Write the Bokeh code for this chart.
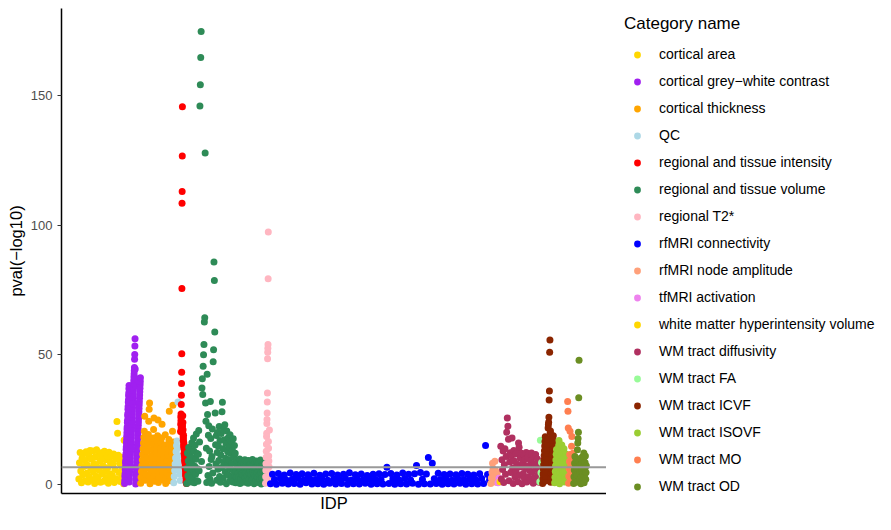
from bokeh.plotting import figure
from bokeh.layouts import row
from bokeh.models import Range1d, FixedTicker, Legend, LegendItem, Span, ColumnDataSource
from bokeh.embed import file_html
from bokeh.resources import INLINE

categories = ["cortical area", "cortical grey\u2212white contrast", "cortical thickness", "QC",
              "regional and tissue intensity", "regional and tissue volume", "regional T2*",
              "rfMRI connectivity", "rfMRI node amplitude", "tfMRI activation",
              "white matter hyperintensity volume", "WM tract diffusivity", "WM tract FA",
              "WM tract ICVF", "WM tract ISOVF", "WM tract MO", "WM tract OD"]

colors = ["#FFD700", "#A020F0", "#FFA500", "#ADD8E6", "#FF0000", "#2E8B57", "#FFB6C1",
          "#0000FF", "#FFA07A", "#EE82EE", "#FFD700", "#B03060", "#98FB98", "#8B2500",
          "#9ACD32", "#FF7F50", "#6B8E23"]

# number of IDPs (x extent) in each category
idp_counts = [46, 16, 33, 7, 6, 79, 4, 221, 7, 2, 1, 39, 3, 12, 13, 6, 13]

threshold = 6.6
y_ticks = [0, 50, 100, 150]

cortical_area = [2.1, 8.4, 12.3, 5.2, 0.6, 10.1, 3.7, 11.8, 6.9, 1.4, 9.2, 12.6, 4.3, 7.5, 0.9, 11.2,
                 2.8, 13.1, 6.1, 9.8, 1.7, 12.9, 4.8, 8.1, 0.4, 10.7, 3.2, 13.4, 6.6, 2.4, 11.5, 5.5,
                 8.9, 0.8, 12.2, 3.9, 10.3, 7.2, 1.2, 12.8, 5.0, 9.5, 2.6, 11.0, 6.4, 0.5, 12.4, 4.1,
                 8.6, 1.9, 10.9, 3.4, 7.8, 11.7, 0.7, 5.8, 9.9, 2.2, 24.3, 19.7, 11.3, 4.6, 8.2, 1.1,
                 10.5, 6.8, 3.0, 9.6, 0.3, 17.0]

grey_white = [0.4, 1.5, 3.1, 4.0, 5.7, 6.6, 8.3, 9.2, 10.9, 11.8, 13.5, 14.4, 16.0, 17.1, 18.6, 19.9,
              21.3, 22.2, 23.9, 24.8, 26.5, 27.4, 29.0, 30.1, 31.7, 32.6, 34.2, 35.3, 36.9, 38.2,
              0.9, 2.2, 3.6, 4.9, 6.2, 7.5, 8.8, 10.2, 11.5, 12.7, 14.0, 15.3, 16.6, 18.0, 19.3, 20.6,
              21.8, 23.1, 24.5, 25.8, 27.1, 28.3, 29.6, 31.0, 32.3, 33.6, 34.9, 36.2, 37.5, 38.8, 40.1,
              41.4, 42.6, 43.9, 45.1, 48.3, 50.1, 53.4, 56.2, 44.5, 41.0, 37.9,
              0.2, 1.8, 3.3, 4.5, 6.0, 7.2, 8.6, 9.9, 11.3, 12.4, 13.8, 15.1, 16.3, 17.7, 19.0, 20.2,
              21.6, 22.8, 24.1, 25.4, 26.8, 28.0, 29.3, 30.6, 31.9, 33.2, 34.5, 35.8, 37.1, 38.5, 39.7, 41.2]

thickness = [0.5, 2.8, 5.0, 7.2, 9.4, 11.6, 13.8, 16.0, 18.2, 20.5, 26.3,
             1.6, 3.9, 6.1, 8.3, 10.5, 12.7, 14.9, 17.1, 19.3, 24.4, 29.0, 31.4,
             0.3, 2.5, 4.7, 6.9, 9.1, 11.3, 13.5, 15.7, 17.9, 21.2, 25.6,
             1.2, 3.4, 5.6, 7.8, 10.0, 12.2, 14.4, 16.6, 18.8, 24.9,
             0.7, 2.9, 5.1, 7.3, 9.5, 11.7, 13.9, 16.1, 17.9, 23.2,
             1.8, 4.0, 6.2, 8.4, 10.6, 12.8, 15.0, 19.2,
             0.4, 2.6, 4.8, 7.0, 9.2, 11.4, 13.6, 15.8, 17.3, 28.2,
             1.4, 3.6, 5.8, 8.0, 10.2, 12.4, 14.6, 20.5, 30.5, 16.4]

qc = [0.6, 3.1, 5.4, 7.9, 10.2, 12.6, 15.0, 16.8, 13.9, 31.8, 11.1, 8.7, 6.3, 4.0, 1.5]

tissue_intensity = [20.4, 23.2, 26.0, 24.6, 27.2, 21.8, 30.8, 34.4, 38.9, 43.3, 50.4, 75.6, 108.5,
                    113.0, 126.7, 145.7, 22.5, 19.7, 26.5, 23.9, 21.1, 18.3, 16.9, 17.6, 19.0, 14.8,
                    16.2, 15.5, 14.1, 12.0, 13.4, 12.7, 11.3, 9.2, 10.6, 9.9, 8.5, 6.4, 7.8, 7.1,
                    5.7, 3.6, 5.0, 4.3, 3.0, 0.8, 2.2, 1.5, 0.4]

tissue_volume = [0.4, 6.2, 12.1, 3.3, 9.0, 14.2, 1.8, 7.5, 11.0, 4.6, 13.3, 0.9, 8.4, 16.1, 2.7, 10.3,
                 5.5, 17.9, 12.8, 0.6, 7.0, 15.2, 3.9, 9.7, 19.5, 1.4, 11.9, 6.0,
                 1.2, 11.6, 20.8, 5.3, 16.4, 146.0, 154.2, 164.7, 174.7, 8.8, 37.2, 40.8, 34.7, 45.6,
                 50.0, 54.0, 62.7, 64.3, 127.9, 31.4, 24.4, 14.0, 0.7, 42.5, 27.0, 3.4, 19.0, 22.6,
                 6.9, 12.9, 2.0, 32.0, 17.7, 9.6,
                 0.5, 10.8, 21.4, 4.4, 47.3, 52.0, 85.8, 78.7, 58.8, 27.6, 15.3, 7.9, 18.9, 1.6, 12.3,
                 20.0, 5.9, 14.7, 9.2, 22.3, 3.1, 16.9, 0.8, 11.4, 19.6, 6.5, 28.0, 31.7, 13.8, 2.4,
                 21.0, 8.6, 17.2, 23.0, 4.9, 10.1, 15.8, 0.3, 20.6, 7.3, 12.6, 3.7, 18.1, 9.5, 14.4,
                 1.3, 19.2, 6.0, 11.9, 16.5, 2.9, 8.1, 13.2, 0.9, 17.6, 5.2, 10.5, 15.0, 3.6, 12.0,
                 0.6, 5.1, 9.3, 2.8, 7.2, 1.0, 4.3, 8.6, 3.1, 6.5, 9.8, 0.4, 5.6, 2.2, 7.9, 4.0, 9.1,
                 1.5, 6.3, 3.5, 8.3, 0.8, 5.0, 9.5, 2.6, 7.0, 4.7, 1.2, 8.8, 3.3, 6.1, 0.5, 9.2, 4.4,
                 2.0, 7.5, 5.3, 0.9, 8.1, 3.8, 6.8, 1.7, 9.6, 4.9, 2.4, 7.7, 0.3, 5.8, 8.9, 3.0, 6.4,
                 1.4, 9.0, 4.2, 2.7, 7.3, 0.7, 5.5, 8.4, 3.6, 6.7, 1.9, 9.4, 4.6, 0.2, 7.1, 2.5, 8.0,
                 5.2, 1.1, 6.0, 3.2, 8.7, 0.6, 4.1]

t2star = [0.5, 3.0, 5.5, 8.0, 10.5, 12.8, 15.5, 18.5, 19.7, 23.5, 25.0, 27.6, 31.8, 35.3, 48.5,
          51.0, 52.5, 54.0, 79.3, 97.4, 16.6, 14.0, 11.0, 9.0, 6.8, 4.2, 1.8, 21.0]

rf_connectivity = [0.3, 3.9, 1.9, 0.1, 4.2, 2.2, 0.5, 3.6, 1.7, 0.2, 4.4, 2.0, 0.4, 3.8, 2.3, 0.1,
                   4.1, 1.8, 0.6, 3.7, 2.1, 0.2, 4.3, 1.9, 0.3, 3.5, 2.2, 0.1, 4.0, 1.6, 0.5, 4.2,
                   2.0, 0.2, 3.6, 1.9, 0.4, 3.9, 2.4, 0.1, 4.5, 1.7, 0.3, 3.7, 2.1, 0.2, 4.0, 1.8,
                   0.5, 3.4, 2.2, 0.1, 3.9, 2.0, 0.3, 4.1, 1.9, 0.2, 3.8, 6.6, 0.4, 4.2, 2.1, 0.1,
                   3.6, 1.8, 0.3, 4.4, 2.3, 0.2, 3.9, 1.7, 0.5, 4.1, 7.3, 0.1, 4.6, 2.0, 0.3, 4.0,
                   10.4, 0.2, 8.2, 2.2, 0.4, 4.3, 1.9, 0.1, 3.8, 2.1, 0.3, 4.0, 1.6, 0.2, 3.7, 2.2,
                   0.5, 4.2, 1.9, 0.1, 3.9, 2.0, 0.3, 3.6, 1.8, 0.2, 4.1, 2.3, 0.4, 15.0, 3.8, 1.7]

node_amplitude = [0.4, 2.5, 4.7, 8.2, 6.0, 1.3, 3.6, 8.9, 5.4, 0.8, 2.9, 4.4]

tf_activation = [0.6, 2.4]

wmh_volume = [1.0]

diffusivity = [14.7, 2.1, 9.5, 5.8, 12.9, 0.7, 7.6, 13.8, 3.9, 10.8, 20.1, 25.6, 22.4, 17.4, 1.4,
               8.7, 12.2, 4.6, 11.0, 17.9, 6.3, 0.4, 13.1, 9.0, 2.9, 11.7, 5.1, 7.9, 12.5, 1.0,
               16.0, 14.3, 3.4, 10.2, 6.8, 12.0, 0.3, 8.3, 4.2, 11.4, 2.3, 9.6, 6.1, 12.3, 0.9,
               7.1, 10.5, 3.0, 11.8, 5.4, 1.7, 9.1, 12.1, 4.8, 7.4, 0.5, 10.9, 2.6, 8.0, 11.5,
               5.9, 1.2, 9.8, 3.7, 6.6, 0.8]

fa = [1.0, 17.0, 4.5, 8.5, 2.5]

icvf = [0.4, 2.2, 4.0, 5.8, 7.6, 9.4, 11.2, 13.0, 14.8, 16.6, 18.4, 1.3, 3.1, 4.9, 6.7, 8.5, 10.3,
        12.1, 13.9, 15.7, 17.5, 21.8, 23.0, 24.0, 25.9, 32.6, 36.0, 51.0, 55.7, 19.9, 20.6, 0.8,
        2.6, 4.4, 6.2, 8.0, 9.8, 11.6, 13.4, 15.2, 17.0, 18.8, 3.5, 7.1, 10.7, 14.3]

isovf = [0.6, 2.8, 5.0, 7.2, 9.4, 11.6, 13.5, 1.7, 3.9, 6.1, 8.3, 10.5, 12.7, 14.9, 16.9, 15.8,
         0.3, 2.4, 4.6, 6.8, 9.0, 11.2, 13.4, 15.2, 1.4, 3.6, 5.8, 8.0, 10.2, 12.3, 13.8, 0.9,
         3.1, 5.3, 7.5, 9.7, 11.7, 2.0, 4.2, 6.4, 8.6, 10.6]

mo = [32.0, 28.2, 21.8, 0.5, 3.2, 6.0, 8.8, 11.5, 20.5, 1.8, 4.6, 7.4, 10.2, 14.7, 18.5, 2.5, 5.3,
      9.0, 12.0, 0.9]

od = [0.4, 3.0, 5.6, 8.2, 10.8, 1.7, 4.3, 6.9, 9.5, 0.8, 3.6, 6.2, 13.4, 16.0, 17.7, 20.1, 33.4,
      47.9, 8.8, 2.2, 4.9, 7.5, 10.1, 0.3, 2.9, 5.5, 8.1, 10.6, 1.5, 4.1, 6.7, 9.3, 12.1, 0.6, 3.3,
      5.9, 8.5, 11.0, 2.0, 4.6, 7.2]

series = [cortical_area, grey_white, thickness, qc, tissue_intensity, tissue_volume, t2star,
          rf_connectivity, node_amplitude, tf_activation, wmh_volume, diffusivity, fa, icvf,
          isovf, mo, od]

FONT = "Liberation Sans"

p = figure(width=606, height=514, output_backend="svg", toolbar_location=None,
           x_range=Range1d(-17, 528), y_range=Range1d(-3.5, 183.6),
           min_border_left=61, min_border_right=0, min_border_top=8, min_border_bottom=16,
           border_fill_color="white")

# legend-only figure on the right (its ranges show none of the points)
lg = figure(width=269, height=514, output_backend="svg", toolbar_location=None,
            x_range=Range1d(-3000, -2000), y_range=Range1d(-3000, -2000),
            min_border_left=12, min_border_right=0, min_border_top=8, min_border_bottom=0,
            border_fill_color="white", background_fill_color="white")
lg.axis.visible = False
lg.grid.visible = False
lg.outline_line_color = None

items = []
start = 0
for cat, col, cnt, vals in zip(categories, colors, idp_counts, series):
    n = len(vals)
    xs = [start + (i + 0.5) * cnt / n for i in range(n)]
    src = ColumnDataSource(dict(x=xs, y=vals))
    p.scatter(x="x", y="y", source=src, size=7, marker="circle",
              fill_color=col, line_color=None)
    key = lg.scatter(x="x", y="y", source=src, size=7, marker="circle",
                     fill_color=col, line_color=None)
    items.append(LegendItem(label=cat, renderers=[key]))
    start += cnt

p.add_layout(Span(location=threshold, dimension="width", line_color="#999999", line_width=2))

p.xgrid.visible = False
p.ygrid.visible = False
p.outline_line_color = None
p.background_fill_color = "white"

p.yaxis.ticker = FixedTicker(ticks=y_ticks)
p.yaxis.minor_tick_line_color = None
p.yaxis.major_tick_out = 4
p.yaxis.major_tick_in = 0
p.yaxis.major_tick_line_color = "#333333"
p.yaxis.axis_line_width = 1.5
p.yaxis.axis_line_color = "black"
p.yaxis.major_label_text_font = FONT
p.yaxis.major_label_text_font_size = "13px"
p.yaxis.major_label_text_color = "#4D4D4D"
p.yaxis.axis_label = "pval(\u2212log10)"
p.yaxis.axis_label_text_font = FONT
p.yaxis.axis_label_text_font_size = "16.5px"
p.yaxis.axis_label_text_font_style = "normal"
p.yaxis.axis_label_text_color = "black"
p.yaxis.axis_label_standoff = 3

p.xaxis.ticker = FixedTicker(ticks=[])
p.xaxis.minor_tick_line_color = None
p.xaxis.major_tick_out = 0
p.xaxis.major_tick_in = 0
p.xaxis.major_label_standoff = 0
p.xaxis.major_label_text_font_size = "0px"
p.xaxis.axis_line_width = 1.5
p.xaxis.axis_line_color = "black"
p.xaxis.axis_label = "IDP"
p.xaxis.axis_label_text_font = FONT
p.xaxis.axis_label_text_font_size = "16.5px"
p.xaxis.axis_label_text_font_style = "normal"
p.xaxis.axis_label_text_color = "black"
p.xaxis.axis_label_text_line_height = 1.0
p.xaxis.axis_label_standoff = 0

legend = Legend(items=items, location="top_left", title="Category name")
legend.title_text_font = FONT
legend.title_text_font_size = "17px"
legend.title_text_font_style = "normal"
legend.title_text_color = "black"
legend.title_standoff = 10
legend.label_text_font = FONT
legend.label_text_font_size = "14px"
legend.label_text_color = "black"
legend.label_height = 20
legend.glyph_height = 17
legend.glyph_width = 26
legend.label_standoff = 9
legend.spacing = 7
legend.padding = 4
legend.margin = 6
legend.border_line_color = None
legend.background_fill_alpha = 0
lg.add_layout(legend, "center")

layout = row(p, lg)
open("out.html", "w").write(file_html(layout, INLINE))
